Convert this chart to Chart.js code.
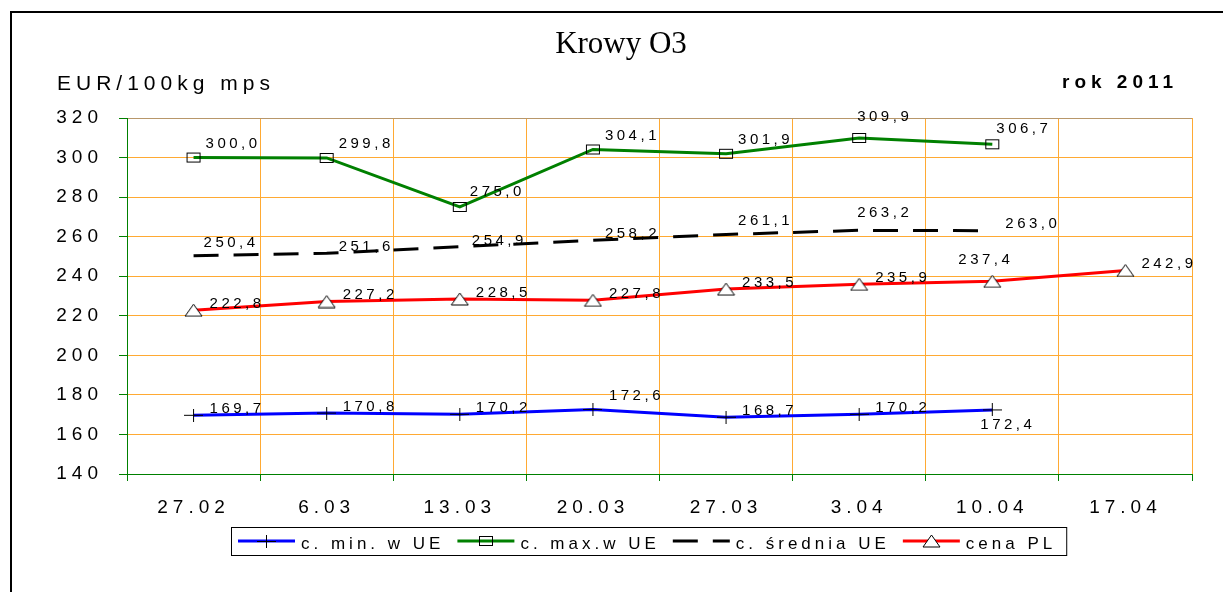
<!DOCTYPE html>
<html>
<head>
<meta charset="utf-8">
<script src="https://cdn.jsdelivr.net/npm/chart.js@4/dist/chart.umd.min.js"></script>
<style>
  html, body { margin: 0; padding: 0; background: #fff; }
  #wrap { position: relative; width: 1223px; height: 592px; }
</style>
</head>
<body>
<div id="wrap"><canvas id="krowyChart" width="1223" height="592"></canvas></div>
<script>
// data
const categories = ["27.02", "6.03", "13.03", "20.03", "27.03", "3.04", "10.04", "17.04"];
const minUE = [169.7, 170.8, 170.2, 172.6, 168.7, 170.2, 172.4, null];
const maxUE = [300.0, 299.8, 275.0, 304.1, 301.9, 309.9, 306.7, null];
const avgUE = [250.4, 251.6, 254.9, 258.2, 261.1, 263.2, 263.0, null];
const cenaPL = [222.8, 227.2, 228.5, 227.8, 233.5, 235.9, 237.4, 242.9];
const seriesNames = ["c. min. w UE", "c. max.w UE", "c. średnia UE", "cena PL"];
const chartTitle = "Krowy O3";
const unitLabel = "EUR/100kg mps";
const yearLabel = "rok 2011";
const yMin = 140, yMax = 320, yStep = 20;

const GRID = "#ffaa33";
const FRAME = "#b8976a";
const AXIS = "#008000";
const SANS = '"Liberation Sans", Arial, sans-serif';

// marker images (Excel-like, slightly wider than tall)
function makeMarker(kind) {
    const c = document.createElement("canvas");
    const g = c.getContext("2d");
    g.strokeStyle = "#000";
    g.lineWidth = 1;
    if (kind === "rect") {
        c.width = 16; c.height = 12;
        g.strokeRect(1.5, 1.5, 13, 9);
    } else if (kind === "tri") {
        c.width = 19; c.height = 14;
        g.beginPath();
        g.moveTo(9.5, 1); g.lineTo(18, 13); g.lineTo(1, 13); g.closePath();
        g.fillStyle = "#fff";
        g.fill();
        g.stroke();
    } else {
        c.width = 19; c.height = 13;
        g.beginPath();
        g.moveTo(0, 6.5); g.lineTo(19, 6.5);
        g.moveTo(9.5, 0); g.lineTo(9.5, 13);
        g.stroke();
    }
    return c;
}
const markers = [makeMarker("cross"), makeMarker("rect"), null, makeMarker("tri")];

// label placement: [dx to left edge, dy to middle], per series, with overrides
const labelPlace = [
    { base: [16, -6.5], at: { 3: [16, -14], 6: [-12, 15] } },
    { base: [12, -14], at: { 2: [10, -15], 5: [-2, -21], 6: [4, -15] } },
    { base: [12, -6], at: { 0: [10, -13], 4: [12, -14], 5: [-2, -17.5], 6: [13, -6.5] } },
    { base: [16, -6.5], at: { 6: [-34, -22] } },
];

const fmt = v => v.toFixed(1).replace(".", ",");

function textW(ctx, s, sp) {
    return ctx.measureText(s).width - sp;
}

const spacingPlugin = {
    id: "spacing",
    beforeLayout(chart) { chart.ctx.letterSpacing = "5px"; },
    beforeDraw(chart) { chart.ctx.letterSpacing = "5px"; },
};

const labelsPlugin = {
    id: "valueLabels",
    afterDatasetsDraw(chart) {
        const ctx = chart.ctx;
        ctx.save();
        ctx.letterSpacing = "3.5px";
        ctx.font = "15px " + SANS;
        ctx.fillStyle = "#000";
        ctx.textAlign = "left";
        ctx.textBaseline = "middle";
        chart.data.datasets.forEach((ds, di) => {
            const meta = chart.getDatasetMeta(di);
            ds.data.forEach((v, i) => {
                if (v === null) return;
                const pt = meta.data[i];
                const off = labelPlace[di].at[i] || labelPlace[di].base;
                ctx.fillText(fmt(v), pt.x + off[0], pt.y + off[1]);
            });
        });
        ctx.restore();
    },
};

const decorPlugin = {
    id: "decor",
    afterDraw(chart) {
        const ctx = chart.ctx;
        ctx.save();
        // outer frame
        ctx.fillStyle = "#000";
        ctx.fillRect(10, 11, 2, 581);
        ctx.fillRect(10, 11, 1213, 2);

        // header texts
        ctx.textBaseline = "alphabetic";
        ctx.letterSpacing = "0px";
        ctx.font = '31px "Liberation Serif", "Times New Roman", serif';
        ctx.textAlign = "center";
        ctx.fillText(chartTitle, 621, 53);

        ctx.textAlign = "left";
        ctx.letterSpacing = "5px";
        ctx.font = "21px " + SANS;
        ctx.fillText(unitLabel, 57, 90);
        ctx.font = "bold 19px " + SANS;
        ctx.fillText(yearLabel, 1062, 88);

        // legend
        const sp = 4;
        ctx.letterSpacing = sp + "px";
        ctx.font = "17px " + SANS;
        const sample = 57, gapT = 6, gapI = 17, padL = 7, padR = 14;
        const widths = seriesNames.map(n => textW(ctx, n, sp));
        let total = padL + padR;
        widths.forEach((w, i) => {
            total += sample + gapT + w + (i < widths.length - 1 ? gapI : 0);
        });
        const boxL = Math.round(648.5 - total / 2);
        const boxT = 527, boxH = 28, midY = 541;
        ctx.strokeStyle = "#000";
        ctx.lineWidth = 1;
        ctx.strokeRect(boxL + 0.5, boxT + 0.5, total, boxH);
        let x = boxL + padL;
        chart.data.datasets.forEach((ds, i) => {
            ctx.save();
            ctx.strokeStyle = ds.borderColor;
            ctx.lineWidth = ds.borderWidth;
            ctx.setLineDash(ds.borderDash || []);
            ctx.beginPath();
            ctx.moveTo(x, midY);
            ctx.lineTo(x + sample, midY);
            ctx.stroke();
            ctx.restore();
            const m = markers[i];
            if (m) ctx.drawImage(m, Math.round(x + sample / 2 - m.width / 2), Math.round(midY - m.height / 2));
            x += sample + gapT;
            ctx.fillStyle = "#000";
            ctx.fillText(seriesNames[i], x, 549);
            x += widths[i] + gapI;
        });
        ctx.restore();
    },
};

function lineSet(label, data, color, idx, dash) {
    return {
        label: label,
        data: data,
        borderColor: color,
        backgroundColor: color,
        borderWidth: 3,
        borderDash: dash || [],
        tension: 0,
        fill: false,
        spanGaps: false,
        pointStyle: markers[idx] || "circle",
        pointRadius: markers[idx] ? 6 : 0,
        pointHoverRadius: markers[idx] ? 6 : 0,
    };
}

new Chart(document.getElementById("krowyChart"), {
    type: "line",
    data: {
        labels: categories,
        datasets: [
            lineSet(seriesNames[0], minUE, "#0000ff", 0),
            lineSet(seriesNames[1], maxUE, "#008000", 1),
            lineSet(seriesNames[2], avgUE, "#000000", 2, [25, 15]),
            lineSet(seriesNames[3], cenaPL, "#ff0000", 3),
        ],
    },
    options: {
        responsive: false,
        animation: false,
        events: [],
        layout: { padding: { left: 27, right: 31, top: 118, bottom: 58 } },
        plugins: {
            legend: { display: false },
            title: { display: false },
            tooltip: { enabled: false },
        },
        scales: {
            x: {
                offset: true,
                afterFit: s => { s.height = 60; },
                grid: {
                    offset: true,
                    color: c => (c.index === categories.length ? FRAME : GRID),
                    tickColor: AXIS,
                    tickLength: 7,
                    lineWidth: 1,
                },
                border: { color: AXIS, width: 1 },
                ticks: {
                    color: "#000",
                    font: { family: SANS, size: 19 },
                    padding: 15,
                    maxRotation: 0,
                    autoSkip: false,
                },
            },
            y: {
                min: yMin,
                max: yMax,
                afterFit: s => { s.width = 100; },
                grid: {
                    color: c => {
                        if (c.tick && c.tick.value === yMax) return FRAME;
                        if (c.tick && c.tick.value === yMin) return AXIS;
                        return GRID;
                    },
                    tickColor: AXIS,
                    tickLength: 8,
                    lineWidth: 1,
                },
                border: { color: AXIS, width: 1 },
                ticks: {
                    stepSize: yStep,
                    color: "#000",
                    font: { family: SANS, size: 19 },
                    padding: 16,
                },
            },
        },
    },
    plugins: [spacingPlugin, labelsPlugin, decorPlugin],
});
</script>
</body>
</html>
